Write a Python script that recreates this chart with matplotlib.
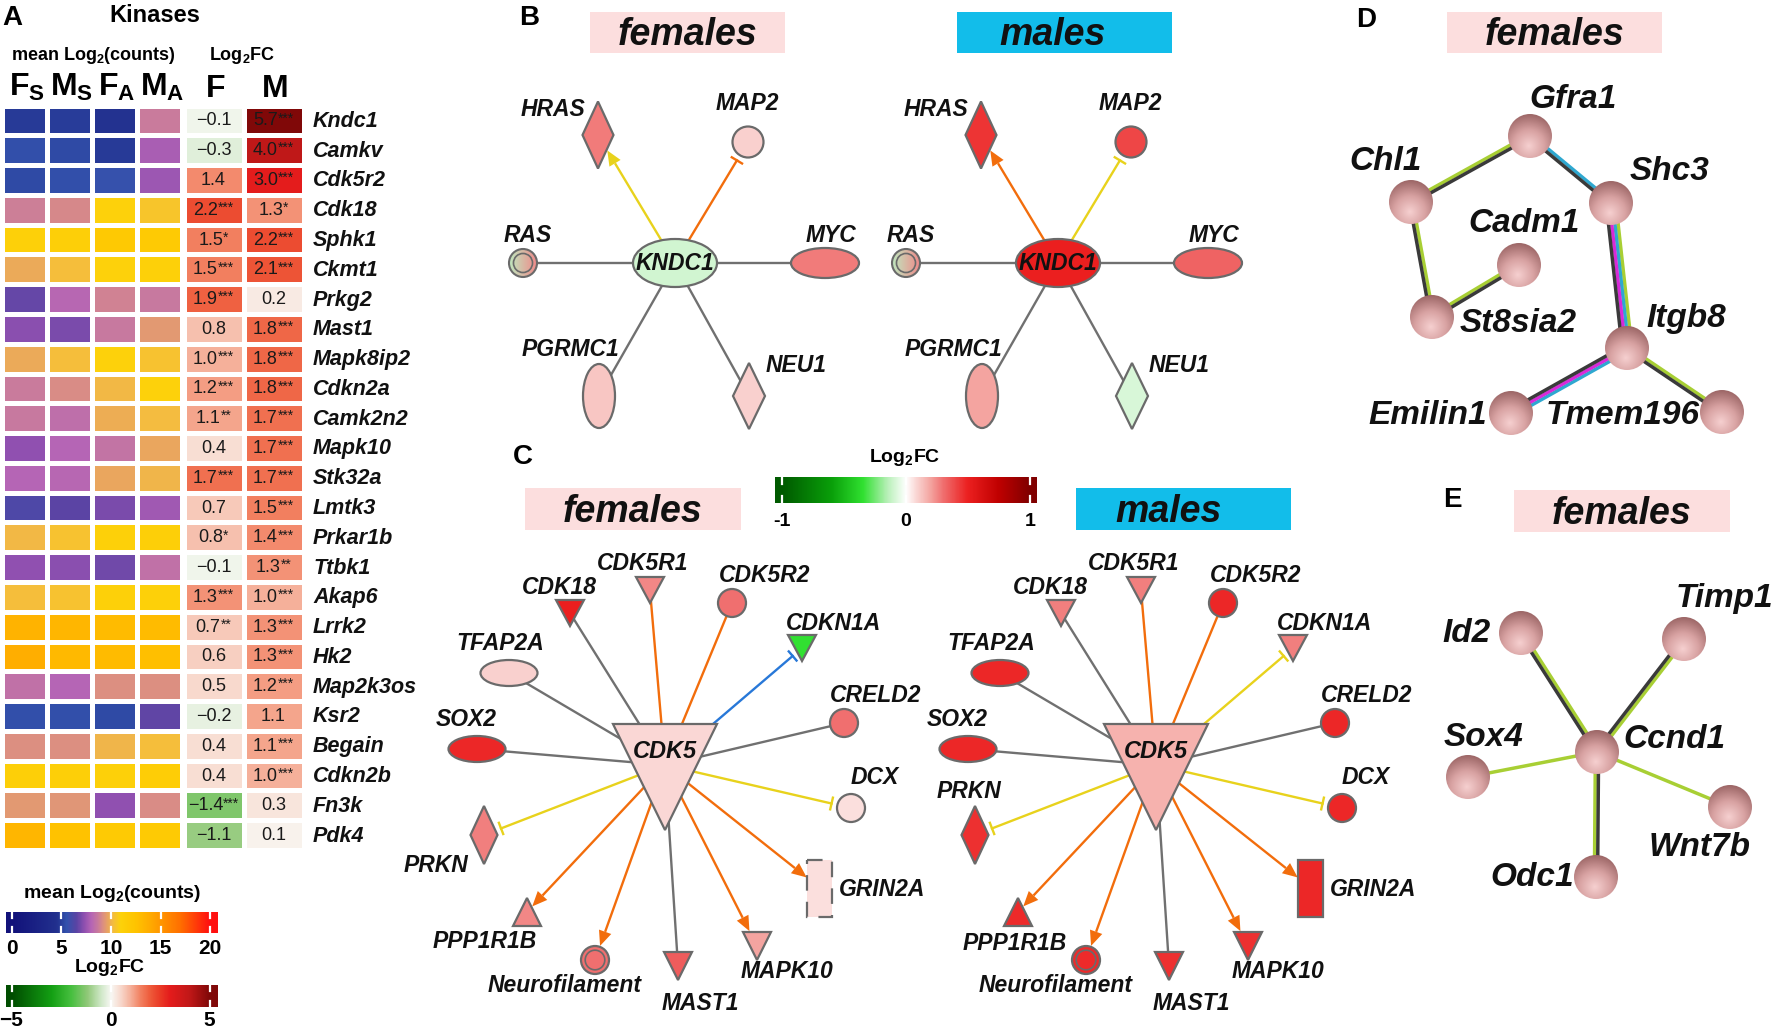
import numpy as np
import matplotlib
matplotlib.use("Agg")
import matplotlib.pyplot as plt
from matplotlib.colors import LinearSegmentedColormap, to_rgb
from matplotlib.patches import Ellipse, Polygon, Rectangle, Circle
from matplotlib import font_manager

# ======================= DATA =======================
# Panel A : kinases
genes = ["Kndc1", "Camkv", "Cdk5r2", "Cdk18", "Sphk1", "Ckmt1", "Prkg2", "Mast1",
         "Mapk8ip2", "Cdkn2a", "Camk2n2", "Mapk10", "Stk32a", "Lmtk3", "Prkar1b",
         "Ttbk1", "Akap6", "Lrrk2", "Hk2", "Map2k3os", "Ksr2", "Begain", "Cdkn2b",
         "Fn3k", "Pdk4"]
mean_FS = [4.8, 5.4, 5.3, 8.8, 11.2, 9.8, 6.7, 7.2, 9.8, 8.7, 8.6, 7.3, 8.0, 6.2, 10.1,
           7.3, 10.3, 13.5, 13.8, 8.4, 5.4, 9.2, 11.3, 9.4, 13.3]
mean_MS = [4.9, 5.3, 5.4, 9.0, 11.3, 10.3, 8.1, 7.0, 10.3, 9.1, 8.3, 8.0, 8.1, 6.5, 10.4,
           7.2, 10.4, 13.3, 13.2, 8.0, 5.4, 9.2, 11.3, 9.3, 12.6]
mean_FA = [4.6, 4.8, 5.6, 11.0, 12.0, 11.0, 8.9, 8.6, 11.0, 10.1, 9.9, 8.5, 9.7, 7.0, 11.2,
           6.8, 11.2, 13.0, 13.0, 9.2, 5.3, 10.0, 11.2, 7.3, 11.8]
mean_MA = [8.7, 7.8, 7.5, 10.5, 11.8, 11.2, 8.6, 9.4, 10.4, 11.0, 10.2, 9.7, 10.0, 7.6, 11.3,
           8.4, 11.2, 13.0, 12.8, 9.2, 6.6, 10.3, 11.5, 9.1, 11.8]
count_headers = [r"$\mathbf{F_S}$", r"$\mathbf{M_S}$", r"$\mathbf{F_A}$", r"$\mathbf{M_A}$"]
log2fc_F = [-0.1, -0.3, 1.4, 2.2, 1.5, 1.5, 1.9, 0.8, 1.0, 1.2, 1.1, 0.4, 1.7, 0.7, 0.8,
            -0.1, 1.3, 0.7, 0.6, 0.5, -0.2, 0.4, 0.4, -1.4, -1.1]
log2fc_M = [5.7, 4.0, 3.0, 1.3, 2.2, 2.1, 0.2, 1.8, 1.8, 1.8, 1.7, 1.7, 1.7, 1.5, 1.4,
            1.3, 1.0, 1.3, 1.3, 1.2, 1.1, 1.1, 1.0, 0.3, 0.1]
sig_F = ["", "", "", "***", "*", "***", "***", "", "***", "***", "**", "", "***", "", "*",
         "", "***", "**", "", "", "", "", "", "***", ""]
sig_M = ["***", "***", "***", "*", "***", "***", "", "***", "***", "***", "***", "***", "***",
         "***", "***", "**", "***", "***", "***", "***", "", "***", "***", "", ""]
fc_headers = ["F", "M"]
counts_ticks = [0, 5, 10, 15, 20]
fc_ticks = [-5, 0, 5]

# Panel B : KNDC1 network (node log2FC, colour scale -1..1)
b_nodes = ["KNDC1", "HRAS", "MAP2", "RAS", "MYC", "PGRMC1", "NEU1"]
b_fc_females = [-0.10, 0.28, 0.10, np.nan, 0.28, 0.12, 0.10]
b_fc_males = [0.50, 0.45, 0.40, np.nan, 0.33, 0.20, -0.08]
b_targets = ["HRAS", "MAP2", "RAS", "MYC", "PGRMC1", "NEU1"]
b_relation = ["activates", "inhibits", "binds", "binds", "binds", "binds"]
b_pred_females = ["inconsistent", "activation", "none", "none", "none", "none"]
b_pred_males = ["activation", "inconsistent", "none", "none", "none", "none"]

# Panel C : CDK5 network
c_nodes = ["CDK5", "CDK18", "CDK5R1", "CDK5R2", "CDKN1A", "TFAP2A", "CRELD2", "SOX2",
           "DCX", "PRKN", "GRIN2A", "PPP1R1B", "Neurofilament", "MAST1", "MAPK10"]
c_fc_females = [0.08, 0.50, 0.25, 0.30, -0.35, 0.10, 0.30, 0.48, 0.07, 0.27, 0.07, 0.25,
                0.30, 0.35, 0.20]
c_fc_males = [0.17, 0.27, 0.27, 0.48, 0.27, 0.48, 0.48, 0.48, 0.48, 0.46, 0.48, 0.47,
              0.47, 0.46, 0.46]
c_targets = c_nodes[1:]
c_relation = ["binds", "binds", "binds", "inhibits", "binds", "binds", "binds", "inhibits",
              "inhibits", "activates", "activates", "activates", "binds", "activates"]
c_pred_females = ["none", "activation", "activation", "inhibition", "none", "none", "none",
                  "inconsistent", "inconsistent", "activation", "activation", "activation",
                  "none", "activation"]
c_pred_males = ["none", "activation", "activation", "inconsistent", "none", "none", "none",
                "inconsistent", "inconsistent", "activation", "activation", "activation",
                "none", "activation"]
net_ticks = [-1, 0, 1]

# Panel D / E : STRING networks (females)
d_genes = ["Gfra1", "Chl1", "Shc3", "Cadm1", "St8sia2", "Itgb8", "Emilin1", "Tmem196"]
d_edges = [("Chl1", "Gfra1"), ("Gfra1", "Shc3"), ("Chl1", "St8sia2"), ("St8sia2", "Cadm1"),
           ("Shc3", "Itgb8"), ("Itgb8", "Emilin1"), ("Itgb8", "Tmem196")]
d_evidence = [["textmining", "coexpression"], ["databases", "coexpression"],
              ["textmining", "coexpression"], ["textmining", "coexpression"],
              ["textmining", "databases", "experiments", "coexpression"],
              ["databases", "experiments", "coexpression"], ["textmining", "coexpression"]]
e_genes = ["Ccnd1", "Id2", "Timp1", "Sox4", "Wnt7b", "Odc1"]
e_edges = [("Id2", "Ccnd1"), ("Timp1", "Ccnd1"), ("Sox4", "Ccnd1"), ("Wnt7b", "Ccnd1"),
           ("Odc1", "Ccnd1")]
e_evidence = [["textmining", "coexpression"], ["textmining", "coexpression"], ["textmining"],
              ["textmining"], ["textmining", "coexpression"]]

# ======================= STYLE / LAYOUT =======================
plt.rcParams["font.family"] = ["Liberation Sans", "DejaVu Sans"]
plt.rcParams["mathtext.fontset"] = "custom"
plt.rcParams["mathtext.rm"] = "Liberation Sans"
plt.rcParams["mathtext.it"] = "Liberation Sans:italic"
plt.rcParams["mathtext.bf"] = "Liberation Sans:bold"
plt.rcParams["mathtext.sf"] = "Liberation Sans"
_names = {f.name for f in font_manager.fontManager.ttflist}
NARROW = "Liberation Sans Narrow" if "Liberation Sans Narrow" in _names else None

W, H = 1772, 1029
fig = plt.figure(figsize=(W / 100, H / 100), dpi=100)
ax = fig.add_axes([0, 0, 1, 1])
ax.set_xlim(0, W)
ax.set_ylim(H, 0)
ax.axis("off")
ax.set_zorder(10)
ax.patch.set_alpha(0)
renderer = fig.canvas.get_renderer()


def sub_axes(x0, y0, x1, y1):
    a = fig.add_axes([x0 / W, 1 - y1 / H, (x1 - x0) / W, (y1 - y0) / H])
    a.axis("off")
    a.set_zorder(1)
    return a


counts_cmap = LinearSegmentedColormap.from_list("counts", [
    (0 / 20, "#12127a"), (4.5 / 20, "#22308e"), (5.5 / 20, "#3352ad"), (6.5 / 20, "#5a44a4"),
    (7.3 / 20, "#9050b0"), (8.0 / 20, "#b565b5"), (8.7 / 20, "#c97b9c"), (9.2 / 20, "#dd9080"),
    (9.7 / 20, "#e9a560"), (10.2 / 20, "#f4bc40"), (11 / 20, "#fdd20a"), (12.5 / 20, "#ffc400"),
    (14 / 20, "#ffab00"), (17 / 20, "#ff7000"), (20 / 20, "#ff1010")])

fc_cmap = LinearSegmentedColormap.from_list("fc", [
    (0.0, "#004d00"), (0.2, "#14a014"), (0.3, "#48c040"), (0.38, "#90c878"), (0.45, "#d0e8c8"),
    (0.5, "#f8f8f4"), (0.55, "#f8d8cc"), (0.6, "#f5b09a"), (0.65, "#f28060"), (0.7, "#ee5a3a"),
    (0.75, "#ea3a26"), (0.8, "#e41c1c"), (0.9, "#c01818"), (1.0, "#800808")])

net_cmap = LinearSegmentedColormap.from_list("net", [
    (0.0, "#005a00"), (0.2, "#0aa00a"), (0.325, "#30e030"), (0.425, "#b8f0b8"), (0.5, "#ffffff"),
    (0.54, "#fad8d6"), (0.6, "#f4a4a0"), (0.65, "#f07070"), (0.75, "#ec2020"), (0.875, "#c00000"),
    (1.0, "#800000")])

PRED_COLORS = {"activation": "#f26d0c", "inconsistent": "#e8d21c",
               "inhibition": "#2878d8", "none": "#707070"}
EVID_COLORS = {"textmining": "#a8cf34", "coexpression": "#3a3a3a",
               "databases": "#2fa8d0", "experiments": "#d82ad8"}
EC = "#6a6a6a"
PINK = "#fcdede"
BLUE = "#12bdea"
BI = dict(fontweight="bold", fontstyle="italic", color="#111111")
LETTER = dict(fontsize=20, fontweight="bold", va="center")

# ======================= PANEL A =======================
ax.text(2, 18, "A", **LETTER)
ax.text(155, 15, "Kinases", fontsize=17, fontweight="bold", ha="center", va="center")
ax.text(93, 55, r"mean Log$_\mathbf{2}$(counts)", fontsize=13, fontweight="bold",
        ha="center", va="center")
ax.text(242, 56, r"Log$_\mathbf{2}$FC", fontsize=13, fontweight="bold", ha="center", va="center")

n = len(genes)
y_top, y_bot = 105.5, 850.0
pitch = (y_bot - y_top) / n
counts = np.array([mean_FS, mean_MS, mean_FA, mean_MA]).T
ax_c = sub_axes(1.5, y_top, 181.5, y_bot)
ax_c.pcolormesh(np.arange(5), np.arange(n + 1), counts, cmap=counts_cmap, vmin=0, vmax=20,
                edgecolors="white", linewidth=2.2)
ax_c.set_xlim(0, 4)
ax_c.set_ylim(n, 0)

fcs = np.array([log2fc_F, log2fc_M]).T
ax_f = sub_axes(183.5, y_top, 303.5, y_bot)
ax_f.pcolormesh(np.arange(3), np.arange(n + 1), np.clip(fcs, -5, 5), cmap=fc_cmap, vmin=-5,
                vmax=5, edgecolors="white", linewidth=2.2)
ax_f.set_xlim(0, 2)
ax_f.set_ylim(n, 0)

for j, hdr in enumerate(count_headers):
    ax.text(27 + 45 * j, 87, hdr, fontsize=23, ha="center", va="center")
for j, hdr in enumerate(fc_headers):
    ax.text(216 + 59 * j, 89, hdr, fontsize=23, fontweight="bold", ha="center", va="center")


def fc_label(xc, yc, val, stars):
    s = ("%.1f" % val).replace("-", "\u2212")
    t1 = ax.text(xc, yc, s, fontsize=13, ha="left", va="center", color="#1a1a1a")
    if not stars:
        t1.set_ha("center")
        return
    t2 = ax.text(xc, yc - 2.5, stars, fontsize=10, ha="left", va="center", color="#1a1a1a")
    w1 = t1.get_window_extent(renderer).width
    w2 = t2.get_window_extent(renderer).width
    x0 = xc - (w1 + w2) / 2
    t1.set_x(x0)
    t2.set_x(x0 + w1)


for i, g in enumerate(genes):
    yc = y_top + (i + 0.5) * pitch
    ax.text(313, yc + 1, g, fontsize=15.5, ha="left", va="center", **BI)
    fc_label(213.5, yc + 0.5, log2fc_F[i], sig_F[i])
    fc_label(273.5, yc + 0.5, log2fc_M[i], sig_M[i])


def hbar(x0, y0, x1, y1, cmap, vmin, vmax, lo, hi, ticks):
    cax = sub_axes(x0, y0, x1, y1)
    grad = np.linspace(lo, hi, 600)[None, :]
    cax.imshow(grad, aspect="auto", cmap=cmap, vmin=vmin, vmax=vmax,
               extent=(lo, hi, 0, 1), interpolation="bilinear")
    for t in ticks:
        cax.plot([t, t], [0, 0.28], color="white", lw=1.6)
        cax.plot([t, t], [0.72, 1], color="white", lw=1.6)
    cax.set_xlim(lo, hi)
    cax.set_ylim(0, 1)
    return cax


# legends under panel A
ax.text(112, 893, r"mean Log$_\mathbf{2}$(counts)", fontsize=14, fontweight="bold",
        ha="center", va="center")
hbar(6, 912, 218, 933, counts_cmap, 0, 20, -0.6, 20.8, counts_ticks)
for t in counts_ticks:
    ax.text(12 + t * 9.9, 948, str(t), fontsize=15, fontweight="bold", ha="center", va="center")
ax.text(110, 968, r"Log$_\mathbf{2}$FC", fontsize=14, fontweight="bold", ha="center",
        va="center")
hbar(6, 985, 218, 1007, fc_cmap, -5, 5, -5.3, 5.4, fc_ticks)
for t in fc_ticks:
    ax.text(110.5 + t * 19.8, 1021, str(t).replace("-", "\u2212"), fontsize=15,
            fontweight="bold", ha="center", va="center")


# ======================= helpers for networks =======================
def sex_box(x0, y0, x1, y1, text, color, dx=0):
    ax.add_patch(Rectangle((x0, y0), x1 - x0, y1 - y0, facecolor=color, edgecolor="none",
                           zorder=1))
    if NARROW:
        ax.text((x0 + x1) / 2 + dx, y1 - 7, text, family=NARROW, fontsize=32, ha="center",
                va="baseline", zorder=2, **BI)
    else:
        ax.text((x0 + x1) / 2 + dx, y1 - 8, text, fontsize=27, ha="center", va="baseline",
                zorder=2, **BI)


def make_patch(kind, x, y, w, h):
    if kind in ("circle", "ellipse", "dcircle", "gcircle"):
        return Ellipse((x, y), w, h)
    if kind == "diamond":
        return Polygon([(x, y - h / 2), (x + w / 2, y), (x, y + h / 2), (x - w / 2, y)])
    if kind == "vtri":
        return Polygon([(x - w / 2, y - h / 2), (x + w / 2, y - h / 2), (x, y + h / 2)])
    if kind == "utri":
        return Polygon([(x, y - h / 2), (x + w / 2, y + h / 2), (x - w / 2, y + h / 2)])
    return Rectangle((x - w / 2, y - h / 2), w, h)


def boundary(kind, x, y, w, h, sx, sy):
    p = make_patch(kind, x, y, w, h)
    path = p.get_path().transformed(p.get_patch_transform())
    lo, hi = 0.0, 1.0
    for _ in range(40):
        m = (lo + hi) / 2
        if path.contains_point((x + (sx - x) * m, y + (sy - y) * m)):
            lo = m
        else:
            hi = m
    return np.array([x + (sx - x) * lo, y + (sy - y) * lo])


def grad_fill(x, y, r, c_left, c_right, z):
    g = np.linspace(0, 1, 64)
    cl, cr = np.array(to_rgb(c_left)), np.array(to_rgb(c_right))
    img = np.tile((cl[None, :] * (1 - g[:, None]) + cr[None, :] * g[:, None])[None, :, :],
                  (64, 1, 1))
    im = ax.imshow(img, extent=(x - r, x + r, y + r, y - r), zorder=z, interpolation="bilinear")
    clip = Circle((x, y), r, transform=ax.transData, facecolor="none", edgecolor="none")
    ax.add_patch(clip)
    im.set_clip_path(clip)


def draw_node(kind, x, y, w, h, color, dashed=False):
    if kind == "gcircle":
        grad_fill(x, y, w / 2, "#bfe8bf", "#f08a8a", 4)
        ax.add_patch(Ellipse((x, y), w, h, fc="none", ec=EC, lw=1.5, zorder=5))
        ax.add_patch(Ellipse((x, y), w * 0.68, h * 0.68, fc="none", ec=EC, lw=1.2, zorder=5))
        return
    p = make_patch(kind, x, y, w, h)
    p.set_facecolor(color)
    p.set_edgecolor(EC)
    p.set_linewidth(1.6)
    p.set_zorder(4)
    if dashed:
        p.set_linestyle((0, (7, 5)))
    ax.add_patch(p)
    if kind == "dcircle":
        ax.add_patch(Ellipse((x, y), w * 0.7, h * 0.7, fc="none", ec=EC, lw=1.2, zorder=5))


def draw_edge(origin, tgt, relation, color):
    kind, x, y, w, h = tgt
    o = np.array(origin, float)
    b = boundary(kind, x, y, w, h, o[0], o[1])
    d = b - o
    L = np.hypot(*d)
    u = d / L
    nvec = np.array([-u[1], u[0]])
    lw = 1.7
    if relation == "activates":
        tip = b - u * 1.0
        base = tip - u * 15
        ax.plot([o[0], base[0]], [o[1], base[1]], color=color, lw=lw, zorder=2,
                solid_capstyle="butt")
        ax.add_patch(Polygon([tip, base + nvec * 6.5, base - nvec * 6.5], closed=True,
                             facecolor=color, edgecolor="none", zorder=3))
    elif relation == "inhibits":
        end = b - u * 6
        ax.plot([o[0], end[0]], [o[1], end[1]], color=color, lw=lw, zorder=2)
        ax.plot([end[0] + nvec[0] * 6, end[0] - nvec[0] * 6],
                [end[1] + nvec[1] * 6, end[1] - nvec[1] * 6], color=color, lw=lw, zorder=2)
    else:
        ax.plot([o[0], b[0]], [o[1], b[1]], color=color, lw=lw, zorder=2)


LFS = 16.5  # network label font size

# ======================= PANEL B =======================
ax.text(519, 18, "B", **LETTER)
sex_box(590, 12, 785, 53, "females", PINK)
sex_box(957, 12, 1172, 53, "males", BLUE, dx=-12)

b_layout = {"KNDC1": ("ellipse", 675, 263, 84, 48), "HRAS": ("diamond", 598, 135, 31, 67),
            "MAP2": ("circle", 748, 142, 31, 31), "RAS": ("gcircle", 523, 263, 28, 28),
            "MYC": ("ellipse", 825, 263, 68, 30), "PGRMC1": ("ellipse", 599, 396, 32, 64),
            "NEU1": ("diamond", 749, 396, 32, 66)}
b_labels = {"HRAS": (553, 109), "MAP2": (747, 104), "RAS": (528, 236), "MYC": (831, 236),
            "PGRMC1": (570, 350), "NEU1": (796, 366)}

for dx, fcv, preds in [(0, b_fc_females, b_pred_females), (383, b_fc_males, b_pred_males)]:
    k, cx, cy, cw, ch = b_layout["KNDC1"]
    for tname, rel, pr in zip(b_targets, b_relation, preds):
        kk, x, y, w, h = b_layout[tname]
        draw_edge((cx + dx, cy), (kk, x + dx, y, w, h), rel, PRED_COLORS[pr])
    for name, v in zip(b_nodes, fcv):
        kk, x, y, w, h = b_layout[name]
        col = "#ffffff" if np.isnan(v) else net_cmap((v + 1) / 2)
        draw_node(kk, x + dx, y, w, h, col)
    ax.text(cx + dx, cy + 1, "KNDC1", fontsize=LFS, ha="center", va="center", zorder=6, **BI)
    for name, (lx, ly) in b_labels.items():
        ax.text(lx + dx, ly, name, fontsize=LFS, ha="center", va="center", zorder=6, **BI)

# ======================= PANEL C =======================
ax.text(513, 457, "C", **LETTER)
sex_box(525, 488, 741, 530, "females", PINK)
sex_box(1076, 488, 1291, 530, "males", BLUE, dx=-15)
ax.text(905, 457, r"Log$_\mathbf{2}$FC", fontsize=14, fontweight="bold", ha="center",
        va="center")
hbar(775, 477, 1037, 503, net_cmap, -1, 1, -1.056, 1.056, net_ticks)
for t in net_ticks:
    ax.text(906 + t * 124, 521, str(t), fontsize=14, fontweight="bold", ha="center",
            va="center")

c_layout = {"CDK5": ("vtri", 665, 777, 104, 106), "CDK18": ("vtri", 570, 613, 28, 26),
            "CDK5R1": ("vtri", 650, 590, 28, 26), "CDK5R2": ("circle", 732, 603, 28, 28),
            "CDKN1A": ("vtri", 802, 648, 28, 26), "TFAP2A": ("ellipse", 509, 673, 57, 26),
            "CRELD2": ("circle", 844, 723, 28, 28), "SOX2": ("ellipse", 477, 749, 57, 26),
            "DCX": ("circle", 851, 808, 28, 28), "PRKN": ("diamond", 484, 835, 27, 58),
            "GRIN2A": ("rect", 820, 888, 25, 57), "PPP1R1B": ("utri", 527, 912, 28, 28),
            "Neurofilament": ("dcircle", 595, 960, 28, 28), "MAST1": ("vtri", 678, 966, 28, 28),
            "MAPK10": ("vtri", 757, 946, 28, 28)}
c_labels = {"CDK18": (559, 587), "CDK5R1": (643, 563), "CDK5R2": (765, 575),
            "CDKN1A": (834, 623), "TFAP2A": (500, 643), "CRELD2": (876, 695),
            "SOX2": (466, 720), "DCX": (875, 777), "PRKN": (436, 865), "GRIN2A": (882, 889),
            "PPP1R1B": (485, 942), "Neurofilament": (565, 985), "MAST1": (700, 1003),
            "MAPK10": (787, 972)}
c_labels_male_shift = {"PRKN": (969 - 491, 792), "PPP1R1B": (1015 - 491, 944)}
c_origin = (665, 765)

for dx, fcv, preds, male in [(0, c_fc_females, c_pred_females, False),
                             (491, c_fc_males, c_pred_males, True)]:
    for tname, rel, pr in zip(c_targets, c_relation, preds):
        kk, x, y, w, h = c_layout[tname]
        draw_edge((c_origin[0] + dx, c_origin[1]), (kk, x + dx, y, w, h), rel, PRED_COLORS[pr])
    for name, v in zip(c_nodes, fcv):
        kk, x, y, w, h = c_layout[name]
        dashed = (name == "GRIN2A" and not male)
        draw_node(kk, x + dx, y, w, h, net_cmap((v + 1) / 2), dashed=dashed)
    ax.text(c_layout["CDK5"][1] + dx, 752, "CDK5", fontsize=17, ha="center", va="center",
            zorder=6, **BI)
    for name, (lx, ly) in c_labels.items():
        if male and name in c_labels_male_shift:
            lx, ly = c_labels_male_shift[name]
        ax.text(lx + dx, ly, name, fontsize=LFS, ha="center", va="center", zorder=6, **BI)


# ======================= PANELS D & E =======================
def sphere(x, y, r=22):
    m = 80
    uu = np.linspace(-1, 1, m)
    U, V = np.meshgrid(uu, uu)
    d = np.clip(np.sqrt((U + 0.05) ** 2 + (V - 0.45) ** 2) / 1.45, 0, 1)[..., None]
    light = np.array(to_rgb("#f6d0d0"))
    mid = np.array(to_rgb("#d8a2a2"))
    dark = np.array(to_rgb("#9c6666"))
    img = np.where(d < 0.5, light + (mid - light) * (d / 0.5),
                   mid + (dark - mid) * ((d - 0.5) / 0.5))
    im = ax.imshow(img, extent=(x - r, x + r, y + r, y - r), zorder=5,
                   interpolation="bilinear")
    clip = Circle((x, y), r, transform=ax.transData, facecolor="none", edgecolor="none")
    ax.add_patch(clip)
    im.set_clip_path(clip)


def strand_edge(p1, p2, evid):
    p1, p2 = np.array(p1, float), np.array(p2, float)
    d = (p2 - p1) / np.hypot(*(p2 - p1))
    nv = np.array([-d[1], d[0]])
    k = len(evid)
    for i, e in enumerate(evid):
        o = (i - (k - 1) / 2) * 3.2
        ax.plot([p1[0] + nv[0] * o, p2[0] + nv[0] * o], [p1[1] + nv[1] * o, p2[1] + nv[1] * o],
                color=EVID_COLORS[e], lw=2.5, solid_capstyle="butt", zorder=3)


ax.text(1356, 20, "D", **LETTER)
sex_box(1447, 12, 1662, 53, "females", PINK)
d_pos = {"Gfra1": (1530, 136), "Chl1": (1411, 202), "Shc3": (1611, 203), "Cadm1": (1519, 265),
         "St8sia2": (1432, 317), "Itgb8": (1627, 348), "Emilin1": (1511, 413),
         "Tmem196": (1722, 412)}
d_lab = {"Gfra1": (1573, 99), "Chl1": (1386, 161), "Shc3": (1670, 172), "Cadm1": (1524, 224),
         "St8sia2": (1518, 324), "Itgb8": (1686, 318), "Emilin1": (1428, 416),
         "Tmem196": (1623, 416)}
for (a, b), ev in zip(d_edges, d_evidence):
    strand_edge(d_pos[a], d_pos[b], ev)
for g in d_genes:
    sphere(*d_pos[g])
    ax.text(*d_lab[g], g, fontsize=24, ha="center", va="center", zorder=6, **BI)

ax.text(1443, 500, "E", **LETTER)
sex_box(1514, 490, 1730, 532, "females", PINK)
e_pos = {"Ccnd1": (1597, 752), "Id2": (1521, 633), "Timp1": (1684, 639), "Sox4": (1468, 777),
         "Wnt7b": (1730, 807), "Odc1": (1596, 877)}
e_lab = {"Ccnd1": (1674, 740), "Id2": (1467, 633), "Timp1": (1724, 599), "Sox4": (1484, 737),
         "Wnt7b": (1700, 848), "Odc1": (1532, 877)}
for (a, b), ev in zip(e_edges, e_evidence):
    strand_edge(e_pos[a], e_pos[b], ev)
for g in e_genes:
    sphere(*e_pos[g])
    ax.text(*e_lab[g], g, fontsize=24, ha="center", va="center", zorder=6, **BI)

ax.set_xlim(0, W)
ax.set_ylim(H, 0)
ax.set_aspect("auto")
fig.savefig("out.png", dpi=100, facecolor="white")
